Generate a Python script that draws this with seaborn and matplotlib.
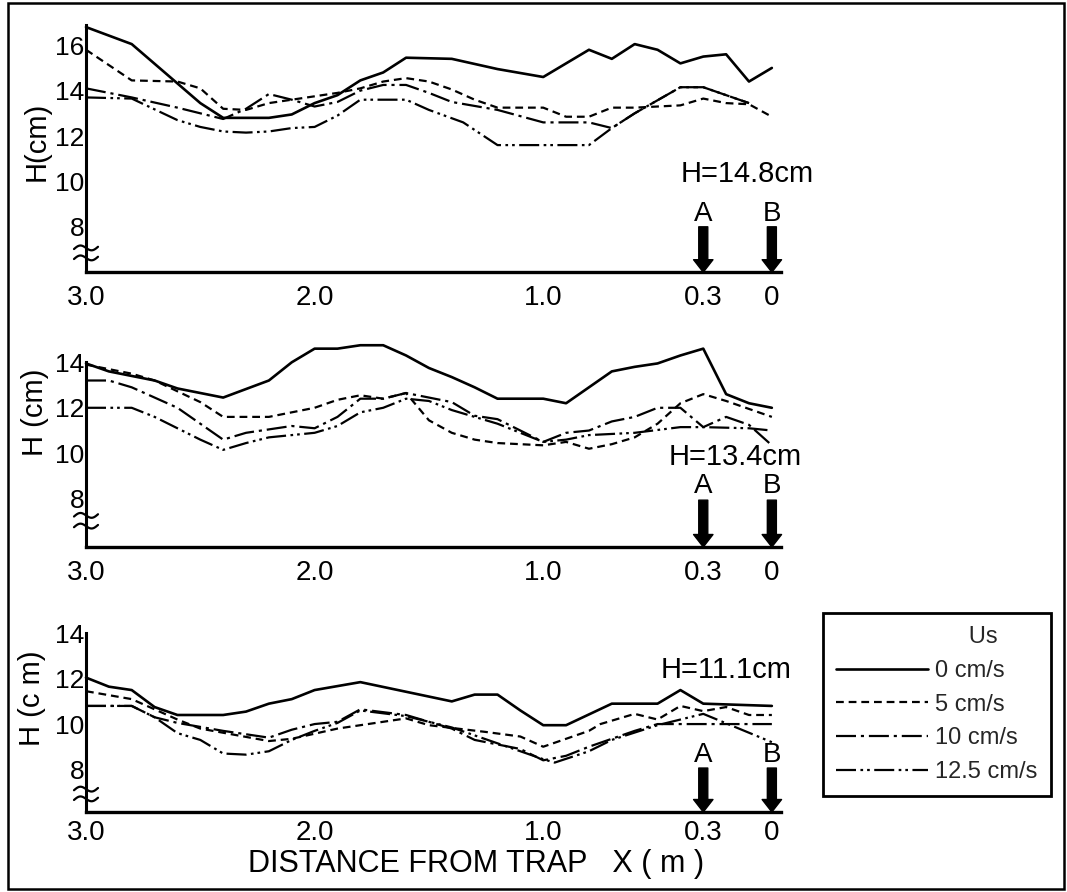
import numpy as np
import matplotlib
matplotlib.use("Agg")
import matplotlib.pyplot as plt
import matplotlib.transforms as mtransforms
from matplotlib.lines import Line2D
from matplotlib.patches import Rectangle
import seaborn as sns

# ---------------- data ----------------
series_labels = ["0 cm/s", "5 cm/s", "10 cm/s", "12.5 cm/s"]
legend_title = "Us"
x_tick_values = [3.0, 2.0, 1.0, 0.3, 0.0]
x_tick_labels = ["3.0", "2.0", "1.0", "0.3", "0"]
depth_labels = ["H=14.8cm", "H=13.4cm", "H=11.1cm"]
ylabels = ["H(cm)", "H (cm)", "H (c m)"]
xlabel = "DISTANCE FROM TRAP   X ( m )"
marker_x = [0.3, 0.0]
marker_labels = ["A", "B"]
y_ticks_top = [8, 10, 12, 14, 16]
y_ticks_mid = [8, 10, 12, 14]
y_ticks_bot = [8, 10, 12, 14]

# Panel 1 : H = 14.8 cm
p1_x_0 = [3.0, 2.8, 2.5, 2.4, 2.2, 2.1, 2.0, 1.9, 1.8, 1.7, 1.6, 1.4, 1.2, 1.0, 0.8, 0.7, 0.6, 0.5, 0.4, 0.3, 0.2, 0.1, 0.0]
p1_h_0 = [16.8, 16.05, 13.45, 12.8, 12.8, 12.95, 13.45, 13.8, 14.45, 14.8, 15.45, 15.4, 14.95, 14.6, 15.8, 15.4, 16.05, 15.8, 15.2, 15.5, 15.6, 14.4, 15.0]
p1_x_5 = [3.0, 2.8, 2.6, 2.5, 2.4, 2.3, 2.2, 2.1, 2.0, 1.9, 1.8, 1.7, 1.6, 1.5, 1.4, 1.3, 1.2, 1.0, 0.9, 0.8, 0.7, 0.6, 0.5, 0.4, 0.3, 0.2, 0.1, 0.0]
p1_h_5 = [15.8, 14.45, 14.4, 14.1, 13.2, 13.15, 13.45, 13.6, 13.75, 13.9, 14.1, 14.4, 14.55, 14.4, 14.05, 13.6, 13.25, 13.25, 12.85, 12.85, 13.25, 13.25, 13.3, 13.35, 13.65, 13.45, 13.4, 12.85]
p1_x_10 = [3.0, 2.8, 2.6, 2.5, 2.4, 2.3, 2.2, 2.1, 2.0, 1.9, 1.8, 1.7, 1.6, 1.5, 1.4, 1.2, 1.0, 0.8, 0.7, 0.6, 0.4, 0.3, 0.1]
p1_h_10 = [14.1, 13.7, 13.25, 13.0, 12.75, 13.2, 13.85, 13.6, 13.3, 13.5, 14.0, 14.25, 14.25, 13.9, 13.5, 13.15, 12.6, 12.6, 12.35, 13.0, 14.15, 14.15, 13.45]
p1_x_12 = [3.0, 2.8, 2.6, 2.5, 2.4, 2.3, 2.2, 2.1, 2.0, 1.9, 1.8, 1.6, 1.5, 1.35, 1.2, 0.8, 0.7, 0.6, 0.4, 0.3, 0.1]
p1_h_12 = [13.7, 13.65, 12.7, 12.4, 12.2, 12.15, 12.2, 12.35, 12.4, 12.9, 13.6, 13.6, 13.15, 12.6, 11.6, 11.6, 12.35, 13.0, 14.15, 14.15, 13.45]

# Panel 2 : H = 13.4 cm
p2_x_0 = [3.0, 2.9, 2.7, 2.6, 2.4, 2.2, 2.1, 2.0, 1.9, 1.8, 1.7, 1.6, 1.5, 1.4, 1.3, 1.2, 1.0, 0.9, 0.8, 0.7, 0.6, 0.5, 0.4, 0.3, 0.2, 0.1, 0.0]
p2_h_0 = [13.95, 13.6, 13.2, 12.85, 12.45, 13.2, 14.0, 14.6, 14.6, 14.75, 14.75, 14.3, 13.75, 13.35, 12.9, 12.4, 12.4, 12.2, 12.9, 13.6, 13.8, 13.95, 14.3, 14.6, 12.6, 12.2, 12.0]
p2_x_5 = [3.0, 2.8, 2.7, 2.5, 2.4, 2.2, 2.0, 1.9, 1.8, 1.7, 1.6, 1.5, 1.4, 1.3, 1.2, 1.0, 0.9, 0.8, 0.7, 0.6, 0.5, 0.4, 0.3, 0.2, 0.1, 0.0]
p2_h_5 = [13.9, 13.5, 13.2, 12.25, 11.6, 11.6, 12.0, 12.35, 12.55, 12.4, 12.65, 11.45, 10.9, 10.6, 10.45, 10.35, 10.5, 10.2, 10.4, 10.7, 11.3, 12.2, 12.6, 12.3, 11.95, 11.6]
p2_x_10 = [3.0, 2.9, 2.8, 2.6, 2.4, 2.3, 2.1, 2.0, 1.9, 1.8, 1.7, 1.6, 1.5, 1.4, 1.3, 1.2, 1.1, 1.0, 0.9, 0.8, 0.7, 0.6, 0.5, 0.4, 0.3, 0.2, 0.1, 0.0]
p2_h_10 = [13.2, 13.2, 12.9, 12.0, 10.6, 10.9, 11.2, 11.1, 11.6, 12.4, 12.4, 12.65, 12.45, 12.25, 11.65, 11.5, 11.0, 10.5, 10.9, 11.0, 11.4, 11.6, 12.0, 12.0, 11.15, 11.6, 11.25, 10.35]
p2_x_12 = [3.0, 2.8, 2.7, 2.6, 2.5, 2.4, 2.3, 2.2, 2.0, 1.9, 1.8, 1.7, 1.6, 1.5, 1.4, 1.3, 1.2, 1.1, 1.0, 0.9, 0.8, 0.6, 0.4, 0.3, 0.1, 0.0]
p2_h_12 = [12.0, 12.0, 11.6, 11.1, 10.6, 10.15, 10.45, 10.7, 10.9, 11.2, 11.8, 12.0, 12.4, 12.3, 11.9, 11.6, 11.3, 10.9, 10.5, 10.6, 10.8, 10.9, 11.15, 11.15, 11.1, 11.0]

# Panel 3 : H = 11.1 cm
p3_x_0 = [3.0, 2.9, 2.8, 2.7, 2.6, 2.4, 2.3, 2.2, 2.1, 2.0, 1.8, 1.4, 1.3, 1.2, 1.1, 1.0, 0.9, 0.7, 0.5, 0.4, 0.3, 0.0]
p3_h_0 = [12.05, 11.65, 11.5, 10.75, 10.4, 10.4, 10.55, 10.9, 11.1, 11.5, 11.85, 11.0, 11.3, 11.3, 10.6, 9.95, 9.95, 10.9, 10.9, 11.5, 10.9, 10.8]
p3_x_5 = [3.0, 2.8, 2.6, 2.5, 2.2, 2.1, 1.9, 1.6, 1.5, 1.25, 1.1, 1.0, 0.8, 0.75, 0.6, 0.5, 0.4, 0.3, 0.2, 0.1, 0.0]
p3_h_5 = [11.45, 11.1, 10.2, 9.8, 9.25, 9.35, 9.8, 10.25, 9.95, 9.65, 9.45, 9.0, 9.7, 10.0, 10.45, 10.2, 10.8, 10.57, 10.75, 10.4, 10.4]
p3_x_10 = [3.0, 2.8, 2.7, 2.6, 2.4, 2.2, 2.1, 2.0, 1.9, 1.8, 1.6, 1.4, 1.3, 1.1, 1.0, 0.9, 0.8, 0.6, 0.5, 0.3, 0.0]
p3_h_10 = [10.8, 10.8, 10.3, 10.05, 9.7, 9.4, 9.75, 10.0, 10.1, 10.65, 10.4, 9.8, 9.3, 8.9, 8.4, 8.6, 9.0, 9.7, 10.0, 10.0, 10.0]
p3_x_12 = [3.0, 2.8, 2.7, 2.6, 2.5, 2.4, 2.3, 2.2, 2.1, 2.0, 1.9, 1.8, 1.6, 1.5, 1.4, 1.2, 1.0, 0.95, 0.8, 0.7, 0.5, 0.3, 0.0]
p3_h_12 = [10.8, 10.8, 10.3, 9.6, 9.3, 8.7, 8.65, 8.8, 9.3, 9.7, 10.05, 10.6, 10.35, 10.1, 9.85, 9.15, 8.45, 8.3, 8.8, 9.3, 9.95, 10.45, 9.2]

panels = [
    [(p1_x_0, p1_h_0), (p1_x_5, p1_h_5), (p1_x_10, p1_h_10), (p1_x_12, p1_h_12)],
    [(p2_x_0, p2_h_0), (p2_x_5, p2_h_5), (p2_x_10, p2_h_10), (p2_x_12, p2_h_12)],
    [(p3_x_0, p3_h_0), (p3_x_5, p3_h_5), (p3_x_10, p3_h_10), (p3_x_12, p3_h_12)],
]
panel_yticks = [y_ticks_top, y_ticks_mid, y_ticks_bot]

# ---------------- style ----------------
sns.set_style("white")
plt.rcParams["font.family"] = ["Liberation Sans", "DejaVu Sans"]

line_styles = ["-", (0, (3.5, 2.2)), (0, (9, 2.2, 1.4, 2.2)), (0, (9, 2.0, 1.2, 1.8, 1.2, 2.0))]
line_widths = [1.9, 1.6, 1.6, 1.6]

W, H = 1067, 892
fig = plt.figure(figsize=(W / 100, H / 100), dpi=100)

XMIN, XMAX = 3.0, -0.04
X0_PX, X1_PX = 86, 781
# (top px, bottom px, ylim)
layout = [
    (24.8, 272.2, (6.0, 16.9)),
    (362.3, 547.0, (5.88, 14.0)),
    (633.4, 812.0, (6.12, 14.0)),
]
label_pos = [(0.11, 10.33), (0.16, 9.83), (0.20, 12.38)]
marker_label_y = [8.55, 8.55, 8.62]
arrow_top = [8.0, 7.94, 8.06]
break_y = [(7.07, 6.63), (7.27, 6.8), (7.13, 6.7)]
ylabel_pos = [(37, 141), (35, 412), (32, 698)]

axes = []
for i, (ytop, ybot, ylim) in enumerate(layout):
    ax = fig.add_axes([X0_PX / W, 1 - ybot / H, (X1_PX - X0_PX) / W, (ybot - ytop) / H])
    axes.append(ax)
    for (xs, hs), ls, lw in zip(panels[i], line_styles, line_widths):
        sns.lineplot(x=xs, y=hs, ax=ax, color="black", linewidth=lw, linestyle=ls,
                     estimator=None, sort=False, legend=False, clip_on=False)
    ax.set_xlim(XMIN, XMAX)
    ax.set_ylim(*ylim)
    ax.set_xlabel("")
    ax.set_ylabel("")
    for s in ["top", "right"]:
        ax.spines[s].set_visible(False)
    ax.spines["left"].set_linewidth(2.2)
    ax.spines["bottom"].set_linewidth(2.4)
    ax.spines["left"].set_color("black")
    ax.spines["bottom"].set_color("black")
    ax.set_xticks(x_tick_values)
    ax.set_xticklabels(x_tick_labels)
    ax.set_yticks(panel_yticks[i])
    ax.set_yticklabels([str(v) for v in panel_yticks[i]])
    ax.tick_params(axis="y", direction="in", length=8, width=1.8, labelsize=19, pad=1, colors="black")
    ax.tick_params(axis="x", length=0, labelsize=20, pad=9 if i < 2 else 6, colors="black")
    if i == 2:
        ax.set_xticks([2.0, 1.0], minor=True)
        ax.tick_params(axis="x", which="minor", direction="in", length=7, width=1.5)
    ax.patch.set_alpha(0)

    # depth annotation
    ax.text(label_pos[i][0], label_pos[i][1], depth_labels[i], ha="center", va="center",
            fontsize=21, color="black")
    # A / B markers with thick arrows
    for mx, ml in zip(marker_x, marker_labels):
        ax.text(mx, marker_label_y[i], ml, ha="center", va="center", fontsize=20, color="black")
        ax.annotate("", xy=(mx, ylim[0]), xytext=(mx, arrow_top[i]),
                    arrowprops=dict(arrowstyle="simple,head_length=0.9,head_width=1.4,tail_width=0.65",
                                    mutation_scale=10, color="black", shrinkA=0, shrinkB=0))
    # axis break marks
    trans = mtransforms.blended_transform_factory(ax.transAxes, ax.transData)
    wfrac = 12.0 / (X1_PX - X0_PX)
    t = np.linspace(-1, 1, 40)
    for yc in break_y[i]:
        ax.plot(t * wfrac, yc + 0.05 * t - 0.13 * np.sin(np.pi * t), transform=trans,
                color="black", lw=1.6, clip_on=False)

    fig.text(ylabel_pos[i][0] / W, 1 - ylabel_pos[i][1] / H, ylabels[i], rotation=90,
             ha="center", va="center", fontsize=21, color="black")

fig.text(476 / W, 1 - 864 / H, xlabel, ha="center", va="center", fontsize=22, color="black")

# legend
handles = [Line2D([0], [0], color="black", lw=lw, linestyle=ls) for ls, lw in zip(line_styles, line_widths)]
leg = fig.legend(handles, series_labels, loc="upper left", bbox_to_anchor=(823 / W, 1 - 613 / H),
                 frameon=True, fancybox=False, edgecolor="black", framealpha=1,
                 title=" " * 14 + legend_title, fontsize=17, title_fontsize=17,
                 handlelength=3.9, handletextpad=0.3, labelspacing=0.5, borderpad=0.55,
                 borderaxespad=0)
leg.get_frame().set_linewidth(2.0)

# figure border
fig.patches.append(Rectangle((8 / W, 1 - 889 / H), (1064 - 8) / W, (889 - 3) / H,
                             transform=fig.transFigure, fill=False, lw=1.8, ec="black"))

fig.savefig("out.png", dpi=100)
